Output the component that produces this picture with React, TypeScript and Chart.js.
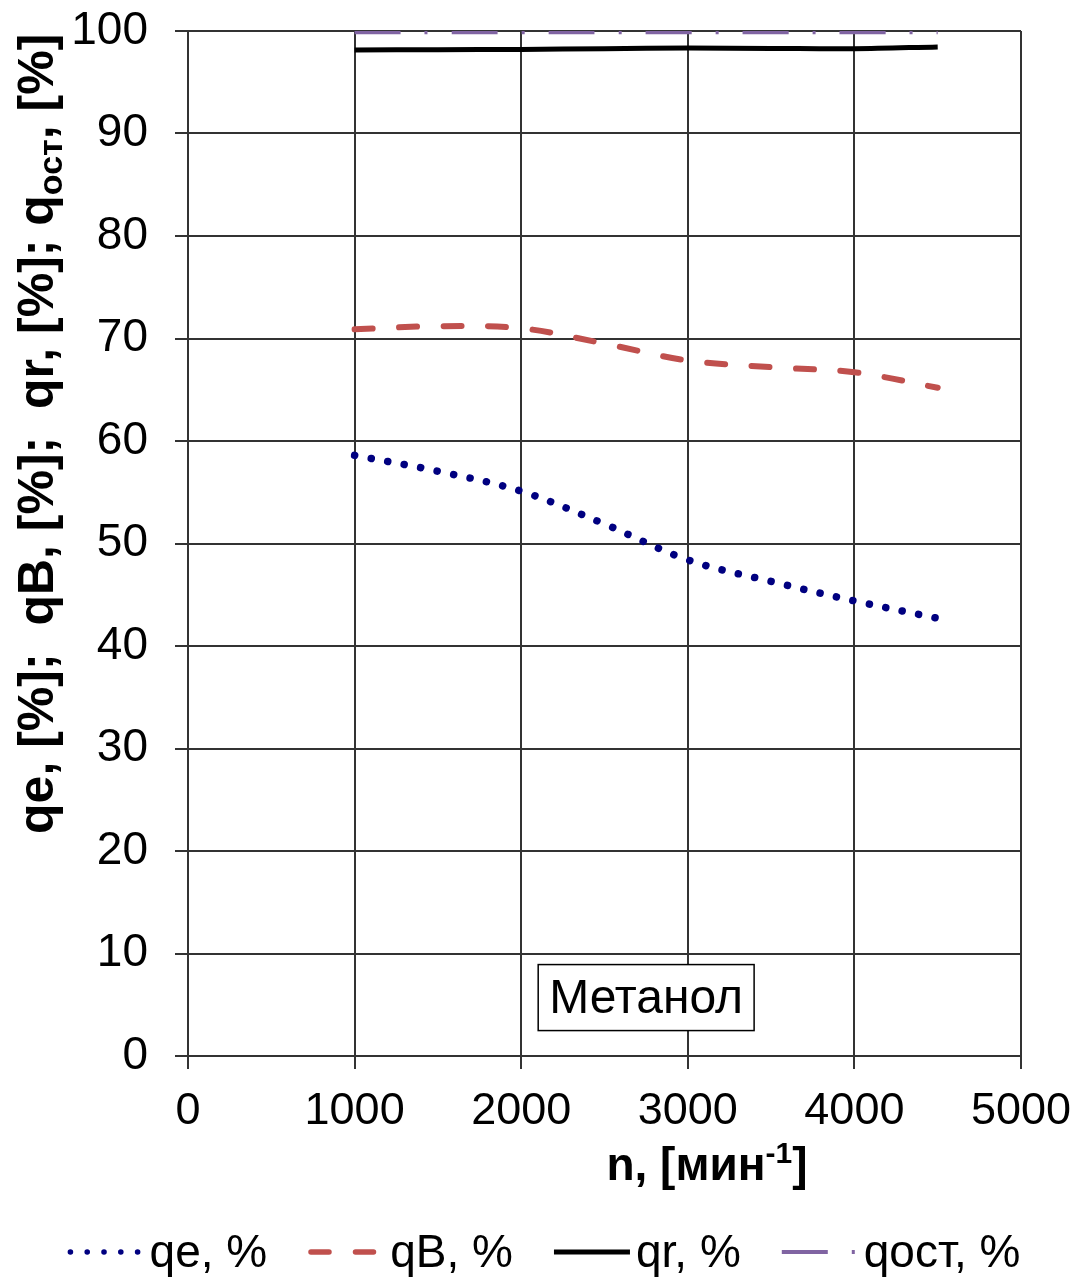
import React, { useEffect, useRef } from "react";
import { Chart, registerables } from "chart.js";

Chart.register(...registerables);

// ---- data ----
const rpm = [1000, 1500, 2000, 2500, 3000, 3500, 4000, 4500];
const qeValues = [58.6, 57.05, 55.1, 51.9, 48.4, 46.3, 44.4, 42.7];
const qBValues = [70.9, 71.2, 71.0, 69.5, 67.85, 67.2, 66.7, 65.2];
const qrValues = [98.15, 98.18, 98.2, 98.27, 98.34, 98.3, 98.27, 98.45];
const qostValues = [99.88, 99.88, 99.88, 99.88, 99.88, 99.88, 99.88, 99.88];
const seriesNames = ["qe, %", "qB, %", "qr, %", "qост, %"];
const xTickValues = [0, 1000, 2000, 3000, 4000, 5000];
const yTickValues = [0, 10, 20, 30, 40, 50, 60, 70, 80, 90, 100];
const fuelLabel = "Метанол";
const xTitleParts = ["n, [мин", "-1", "]"];
const yTitleParts = ["qe, [%];  qB, [%];  qr, [%]; q", "ост", ", [%]"];

const FONT = '"Liberation Sans", Arial, Helvetica, sans-serif';
const GRID = "#333333";

const toPoints = (vals: number[]) => rpm.map((n, i) => ({ x: n, y: vals[i] }));

const decorPlugin = {
  id: "decor",
  afterDraw(chart: any) {
    const { ctx, chartArea: ca } = chart;
    const xs = chart.scales.x;
    const ys = chart.scales.y;
    ctx.save();

    // annotation box
    ctx.font = `48px ${FONT}`;
    const tw = ctx.measureText(fuelLabel).width;
    const bx = xs.getPixelForValue(2750);
    const by = ys.getPixelForValue(5.7);
    const bw = tw + 22;
    const bh = 66;
    ctx.fillStyle = "#ffffff";
    ctx.fillRect(bx - bw / 2, by - bh / 2, bw, bh);
    ctx.strokeStyle = "#000";
    ctx.lineWidth = 1.5;
    ctx.strokeRect(bx - bw / 2, by - bh / 2, bw, bh);
    ctx.fillStyle = "#000";
    ctx.textAlign = "center";
    ctx.textBaseline = "middle";
    ctx.fillText(fuelLabel, bx, by + 2);

    // x title with superscript
    ctx.textAlign = "left";
    ctx.textBaseline = "alphabetic";
    const mainX = `bold 46px ${FONT}`;
    const supX = `bold 30px ${FONT}`;
    ctx.font = mainX;
    const w1 = ctx.measureText(xTitleParts[0]).width;
    const w3 = ctx.measureText(xTitleParts[2]).width;
    ctx.font = supX;
    const w2 = ctx.measureText(xTitleParts[1]).width;
    const xcx = ca.left + ca.width * 0.623;
    const xBase = 1180;
    let px = xcx - (w1 + w2 + w3) / 2;
    ctx.font = mainX;
    ctx.fillText(xTitleParts[0], px, xBase);
    px += w1;
    ctx.font = supX;
    ctx.fillText(xTitleParts[1], px, xBase - 17);
    px += w2;
    ctx.font = mainX;
    ctx.fillText(xTitleParts[2], px, xBase);

    // y title, rotated, with subscript
    const mainY = `bold 50px ${FONT}`;
    const subY = `bold 34px ${FONT}`;
    ctx.font = mainY;
    const a1 = ctx.measureText(yTitleParts[0]).width;
    const a3 = ctx.measureText(yTitleParts[2]).width;
    ctx.font = subY;
    const a2 = ctx.measureText(yTitleParts[1]).width;
    ctx.save();
    ctx.translate(53, ca.top + ca.height * 0.393);
    ctx.rotate(-Math.PI / 2);
    let lx = -(a1 + a2 + a3) / 2;
    ctx.font = mainY;
    ctx.fillText(yTitleParts[0], lx, 0);
    lx += a1;
    ctx.font = subY;
    ctx.fillText(yTitleParts[1], lx, 9);
    lx += a2;
    ctx.font = mainY;
    ctx.fillText(yTitleParts[2], lx, 0);
    ctx.restore();

    // legend
    const ds = chart.data.datasets;
    const sampleW = 76;
    const sampleGap = 6;
    const itemGap = 41;
    ctx.font = `46px ${FONT}`;
    const widths = ds.map((d: any) => ctx.measureText(d.label).width);
    const total =
      widths.reduce((s: number, w: number) => s + w, 0) +
      ds.length * (sampleW + sampleGap) +
      (ds.length - 1) * itemGap;
    let lxp = chart.width / 2 + 4 - total / 2;
    const lineY = 1252;
    const textBase = 1267;
    ds.forEach((d: any, i: number) => {
      ctx.save();
      const lw = Math.min(d.borderWidth, 5.5);
      ctx.strokeStyle = d.borderColor;
      ctx.lineWidth = lw;
      ctx.lineCap = d.borderCapStyle || "butt";
      ctx.setLineDash(d.borderDash || []);
      ctx.beginPath();
      const cap = ctx.lineCap === "round" ? lw / 2 : 0;
      ctx.moveTo(lxp + cap, lineY);
      ctx.lineTo(lxp + sampleW - cap, lineY);
      ctx.stroke();
      ctx.restore();
      lxp += sampleW + sampleGap;
      ctx.fillStyle = "#000";
      ctx.font = `46px ${FONT}`;
      ctx.textAlign = "left";
      ctx.textBaseline = "alphabetic";
      ctx.fillText(d.label, lxp, textBase);
      lxp += widths[i] + itemGap;
    });

    ctx.restore();
  },
};

export default function App() {
  const canvasRef = useRef<HTMLCanvasElement | null>(null);

  useEffect(() => {
    const canvas = canvasRef.current;
    if (!canvas) return;
    const gridOpts = {
      color: GRID,
      lineWidth: 2,
      tickLength: 13,
      tickColor: GRID,
      drawTicks: true,
    };
    const chart = new Chart(canvas, {
      type: "line",
      data: {
        datasets: [
          {
            label: seriesNames[0],
            data: toPoints(qeValues),
            borderColor: "#000080",
            borderWidth: 7.5,
            borderDash: [0.1, 16.7],
            borderCapStyle: "round",
            tension: 0.35,
            pointRadius: 0,
            fill: false,
          },
          {
            label: seriesNames[1],
            data: toPoints(qBValues),
            borderColor: "#C0504D",
            borderWidth: 6,
            borderDash: [18, 26.5],
            borderCapStyle: "round",
            tension: 0.35,
            pointRadius: 0,
            fill: false,
          },
          {
            label: seriesNames[2],
            data: toPoints(qrValues),
            borderColor: "#000000",
            borderWidth: 5,
            borderCapStyle: "butt",
            tension: 0.35,
            pointRadius: 0,
            fill: false,
          },
          {
            label: seriesNames[3],
            data: toPoints(qostValues),
            borderColor: "#8064A2",
            borderWidth: 4,
            borderDash: [46, 24, 3, 24],
            borderCapStyle: "butt",
            tension: 0.35,
            pointRadius: 0,
            fill: false,
          },
        ],
      },
      options: {
        animation: false,
        responsive: false,
        devicePixelRatio: 1,
        layout: { padding: { top: 31, right: 59, left: 0, bottom: 0 } },
        plugins: {
          legend: { display: false },
          tooltip: { enabled: false },
          title: { display: false },
        },
        scales: {
          x: {
            type: "linear",
            min: xTickValues[0],
            max: xTickValues[xTickValues.length - 1],
            afterBuildTicks: (s: any) => {
              s.ticks = xTickValues.map((v) => ({ value: v }));
            },
            afterFit: (s: any) => {
              s.height = 221;
              s.paddingLeft = 0;
              s.paddingRight = 0;
            },
            grid: gridOpts,
            border: { display: true, color: GRID, width: 2 },
            ticks: {
              color: "#000",
              font: { family: FONT, size: 45 },
              padding: 16,
              maxRotation: 0,
              autoSkip: false,
              callback: (v: any) => String(v),
            },
          },
          y: {
            type: "linear",
            min: yTickValues[0],
            max: yTickValues[yTickValues.length - 1],
            afterBuildTicks: (s: any) => {
              s.ticks = yTickValues.map((v) => ({ value: v }));
            },
            afterFit: (s: any) => {
              s.width = 188;
              s.paddingTop = 0;
              s.paddingBottom = 0;
            },
            grid: gridOpts,
            border: { display: true, color: GRID, width: 2 },
            ticks: {
              color: "#000",
              font: { family: FONT, size: 46 },
              padding: 27,
              autoSkip: false,
              callback: (v: any) => String(v),
            },
          },
        },
      },
      plugins: [decorPlugin],
    } as any);
    return () => chart.destroy();
  }, []);

  return (
    <div style={{ position: "absolute", left: 0, top: 0, width: 1080, height: 1277, background: "#fff" }}>
      <canvas ref={canvasRef} width={1080} height={1277} style={{ display: "block" }} />
    </div>
  );
}
